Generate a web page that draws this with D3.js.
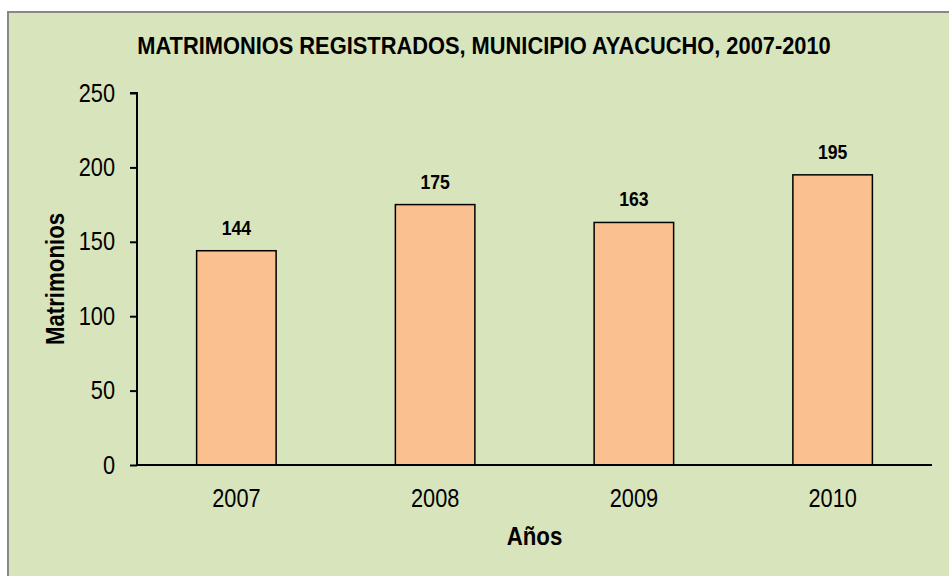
<!DOCTYPE html>
<html>
<head>
<meta charset="utf-8">
<script src="https://cdn.jsdelivr.net/npm/d3@7.9.0/dist/d3.min.js"></script>
<style>
  body { margin: 0; background: #ffffff; }
  svg { display: block; font-family: "Liberation Sans", Arial, sans-serif; }
</style>
</head>
<body>
<div id="chart"></div>
<script>
// data
const years = ['2007', '2008', '2009', '2010'];
const matrimonios = [144, 175, 163, 195];
const yTicks = [0, 50, 100, 150, 200, 250];

const title = 'MATRIMONIOS REGISTRADOS, MUNICIPIO AYACUCHO, 2007-2010';
const xLabel = 'Años';
const yLabel = 'Matrimonios';

const width = 949;
const height = 576;
const margin = { top: 93, right: 17, bottom: 111, left: 137 };

// no Arial Narrow here, so squeeze Liberation Sans horizontally
function narrow(sel, k) {
  sel.each(function () {
    const t = d3.select(this);
    const x = +t.attr('x') || 0;
    t.attr('x', x / k);
    const prev = t.attr('transform') || '';
    t.attr('transform', `${prev} scale(${k},1)`.trim());
  });
}

const svg = d3
  .select('#chart')
  .append('svg')
  .attr('width', width)
  .attr('height', height);

// chart area background + border (runs off the right/bottom edge like the source)
svg
  .append('rect')
  .attr('x', 8)
  .attr('y', 12)
  .attr('width', width + 20)
  .attr('height', height + 20)
  .attr('fill', '#d8e4bc')
  .attr('stroke', '#888888')
  .attr('stroke-width', 2);

const xScale = d3
  .scaleBand()
  .domain(years)
  .range([margin.left, width - margin.right])
  .paddingInner(0.6)
  .paddingOuter(0.3);

const yScale = d3
  .scaleLinear()
  .domain([0, 250])
  .range([height - margin.bottom, margin.top]);

// title
svg
  .append('text')
  .attr('transform', 'translate(484, 54)')
  .attr('text-anchor', 'middle')
  .attr('font-size', 24)
  .attr('font-weight', 'bold')
  .text(title)
  .call(narrow, 0.91);

// bars
const rows = years.map((y, i) => ({ year: y, value: matrimonios[i] }));

svg
  .append('g')
  .selectAll('rect')
  .data(rows)
  .join('rect')
  .attr('x', (d) => xScale(d.year))
  .attr('y', (d) => yScale(d.value))
  .attr('width', xScale.bandwidth())
  .attr('height', (d) => yScale(0) - yScale(d.value))
  .attr('fill', '#fac090')
  .attr('stroke', '#000')
  .attr('stroke-width', 1.5);

// value labels
svg
  .append('g')
  .selectAll('text')
  .data(rows)
  .join('text')
  .attr('transform', (d) => `translate(${xScale(d.year) + xScale.bandwidth() / 2}, ${yScale(d.value) - 16})`)
  .attr('text-anchor', 'middle')
  .attr('font-size', 21)
  .attr('font-weight', 'bold')
  .text((d) => d.value)
  .call(narrow, 0.84);

// y axis
const yAxis = svg
  .append('g')
  .attr('transform', `translate(${margin.left}, 0)`)
  .call(d3.axisLeft(yScale).tickValues(yTicks).tickSize(7).tickPadding(15));
yAxis.attr('font-family', null);
yAxis.select('.domain').attr('stroke', '#000').attr('stroke-width', 2).attr('d', `M-7,${yScale(250)}H0V${yScale(0)}`);
yAxis.selectAll('.tick line').attr('stroke', '#000').attr('stroke-width', 2);
yAxis.selectAll('.tick text')
  .attr('font-size', 25)
  .attr('fill', '#000')
  .call(narrow, 0.87);

// x axis
const xAxis = svg
  .append('g')
  .attr('transform', `translate(0, ${yScale(0)})`)
  .call(d3.axisBottom(xScale).tickSize(0).tickPadding(24));
xAxis.attr('font-family', null);
xAxis.select('.domain').attr('stroke', '#000').attr('stroke-width', 2).attr('d', `M${margin.left},0H${width - margin.right}`);
xAxis.selectAll('.tick text')
  .attr('font-size', 25)
  .attr('fill', '#000')
  .call(narrow, 0.87);

// axis titles
svg
  .append('text')
  .attr('transform', `translate(${(margin.left + width - margin.right) / 2}, 545)`)
  .attr('text-anchor', 'middle')
  .attr('font-size', 25)
  .attr('font-weight', 'bold')
  .text(xLabel)
  .call(narrow, 0.89);

svg
  .append('text')
  .attr('transform', `translate(64, ${(yScale(0) + yScale(250)) / 2}) rotate(-90)`)
  .attr('text-anchor', 'middle')
  .attr('font-size', 25)
  .attr('font-weight', 'bold')
  .text(yLabel)
  .call(narrow, 0.89);
</script>
</body>
</html>
